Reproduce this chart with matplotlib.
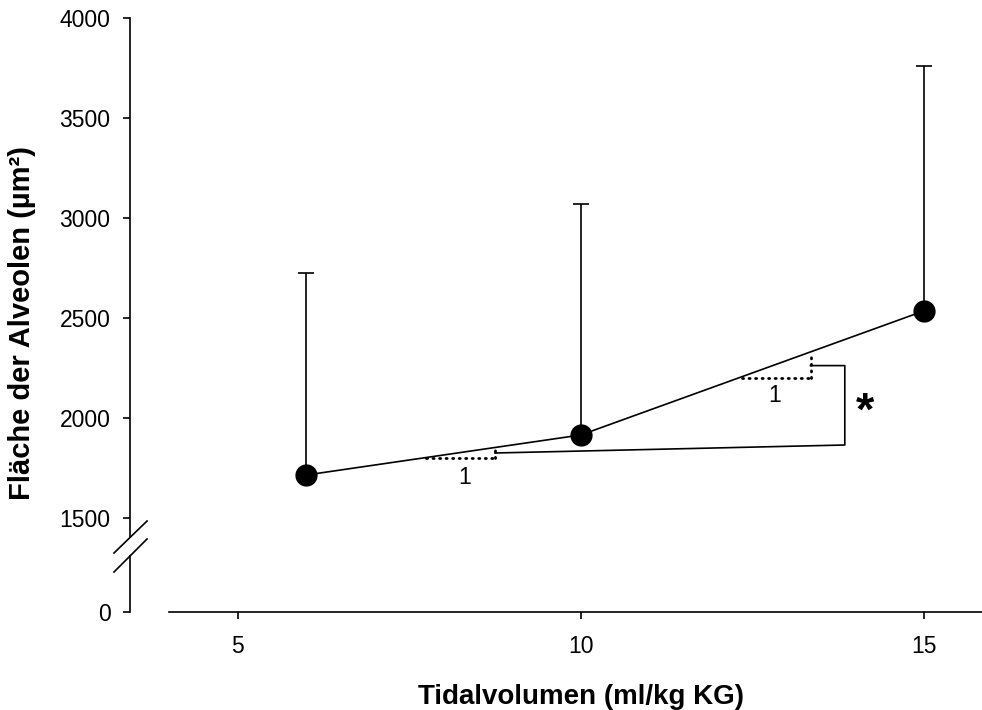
import numpy as np
import matplotlib.pyplot as plt

plt.rcParams['font.family'] = ['Liberation Sans', 'DejaVu Sans']

# data
tidal = np.array([6, 10, 15])
area = np.array([1715, 1915, 2535])
sd_up = np.array([2726, 3070, 3760]) - area

# slope triangles (1 unit run) and bracket
tri1_x = [7.75, 8.75]
tri1_y = [1800, 1850]
tri2_x = [12.35, 13.35]
tri2_y = [2200, 2325]
bracket_x = [8.75, 13.85, 13.85, 13.35]
bracket_y = [1825, 1865, 2262, 2262]

yticks = [0, 1500, 2000, 2500, 3000, 3500, 4000]
xticks = [5, 10, 15]


# broken y-axis: 0..1500 squeezed into a short stub
def fwd(y):
    y = np.asarray(y, dtype=float)
    return np.where(y >= 1500, y, 1030 + y * 470 / 1500)


def inv(y):
    y = np.asarray(y, dtype=float)
    return np.where(y >= 1500, y, (y - 1030) * 1500 / 470)


fig = plt.figure(figsize=(9.82, 7.10), dpi=100)
ax = fig.add_axes([130 / 982, (710 - 612) / 710, 852 / 982, 594 / 710])
ax.set_yscale('function', functions=(fwd, inv))
ax.set_ylim(0, 4000)
ax.set_xlim(3.43, 15.85)

ax.errorbar(tidal, area, yerr=[np.zeros(3), sd_up], fmt='none', ecolor='black',
            elinewidth=1.2, capsize=6, capthick=1.2, zorder=2)
ax.plot(tidal, area, '-', color='black', lw=1.2, zorder=3)
ax.plot(tidal, area, 'o', color='black', ms=15, zorder=4)

# slope triangles
dots = (0, (0.4, 1.95))
for tx, ty in [(tri1_x, tri1_y), (tri2_x, tri2_y)]:
    ax.plot(tx, [ty[0], ty[0]], linestyle=dots, color='black', lw=2, dash_capstyle='round')
    ax.plot([tx[1], tx[1]], ty, linestyle=dots, color='black', lw=2, dash_capstyle='round')
ax.plot(bracket_x, bracket_y, '-', color='black', lw=1.2)
ax.text(8.31, 1700, '1', fontsize=16.5, ha='center', va='center')
ax.text(12.83, 2110, '1', fontsize=16.5, ha='center', va='center')
ax.text(14.15, 2025, '*', fontsize=34, fontweight='bold', ha='center', va='center')

# spines
for s in ['top', 'right', 'left']:
    ax.spines[s].set_visible(False)
ax.spines['bottom'].set_bounds(4, 15.85)
ax.spines['bottom'].set_linewidth(1.2)
ax.plot([0, 0], [0.1263, 1], color='black', lw=1.2, transform=ax.transAxes, clip_on=False)
ax.plot([0, 0], [0, 0.0943], color='black', lw=1.2, transform=ax.transAxes, clip_on=False)
ax.plot([-0.0188, 0.02], [0.0993, 0.1532], color='black', lw=1.2, transform=ax.transAxes, clip_on=False)
ax.plot([-0.0188, 0.02], [0.0673, 0.1229], color='black', lw=1.2, transform=ax.transAxes, clip_on=False)

ax.set_yticks(yticks)
ax.set_yticklabels([str(t) for t in yticks])
ax.set_xticks(xticks)
ax.tick_params(direction='out', length=5, width=1.2, labelsize=16.5)
ax.tick_params(axis='x', pad=11.5)
ax.tick_params(axis='y', pad=9)
ax.minorticks_off()

ax.set_xlabel('Tidalvolumen (ml/kg KG)', fontsize=20, fontweight='bold', va='center')
ax.xaxis.set_label_coords(0.529, -0.143)
ax.set_ylabel('Fläche der Alveolen (µm²)', fontsize=21, fontweight='bold', va='center')
ax.yaxis.set_label_coords(-0.127, 0.4865)

fig.savefig('out.png', dpi=100)
